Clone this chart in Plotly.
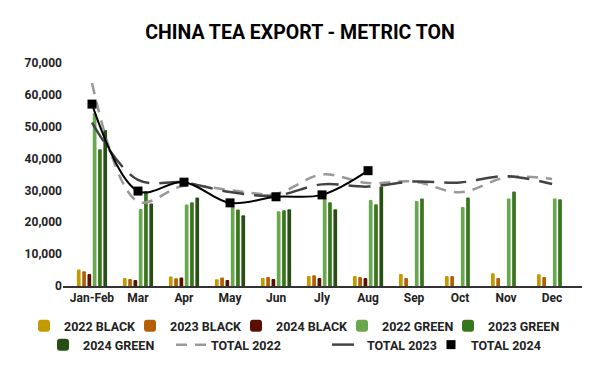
import plotly.graph_objects as go

months = ["Jan-Feb", "Mar", "Apr", "May", "Jun", "Jly", "Aug", "Sep", "Oct", "Nov", "Dec"]
black_2022 = [5200, 2500, 3000, 2100, 2500, 3100, 3100, 3800, 3100, 4000, 3700]
black_2023 = [4600, 2200, 2400, 2700, 2800, 3400, 2800, 2500, 3100, 2500, 2800]
black_2024 = [3800, 1900, 2700, 1900, 2200, 2500, 2500, None, None, None, None]
green_2022 = [54200, 24200, 25600, 25100, 23500, 27600, 27000, 26700, 24800, 27500, 27500]
green_2023 = [42900, 29800, 26300, 24000, 23800, 26300, 25700, 27500, 27800, 29700, 27200]
green_2024 = [49000, 25900, 27800, 22200, 24100, 24100, 31200, None, None, None, None]
total_2022 = [63700, 26500, 31500, 30100, 29000, 35000, 32300, 32800, 29400, 34100, 33600]
total_2023 = [51300, 33300, 32500, 29500, 28400, 31900, 31200, 32800, 32500, 34500, 32000]
total_2024 = [57100, 29800, 32600, 26100, 28000, 28600, 36200, None, None, None, None]

bar_series = [
    ("2022 BLACK", black_2022, "#c49a00"),
    ("2023 BLACK", black_2023, "#b45f06"),
    ("2024 BLACK", black_2024, "#5b0f00"),
    ("2022 GREEN", green_2022, "#6aa84f"),
    ("2023 GREEN", green_2023, "#38761d"),
    ("2024 GREEN", green_2024, "#274e13"),
]

# legend entry placement (text start x, row centre y) in pixels
leg_pos = [(64, 326), (170, 326), (276, 326), (382, 326), (488, 326),
           (83, 345), (211, 345), (367, 345), (471, 345)]

fig = go.Figure()
for i, (name, vals, col) in enumerate(bar_series):
    fig.add_trace(go.Bar(
        x=months, y=vals, name=name, marker_color=col, marker_line_width=0,
        marker_cornerradius=1, showlegend=True,
        legend="legend" if i == 0 else f"legend{i + 1}",
    ))

fig.add_trace(go.Scatter(
    x=months, y=total_2022, name="TOTAL 2022", mode="lines",
    line=dict(color="#999999", width=2.5, dash="11px,8px", shape="spline", smoothing=1.0),
    legend="legend7",
))
fig.add_trace(go.Scatter(
    x=months, y=total_2023, name="TOTAL 2023", mode="lines",
    line=dict(color="#434343", width=2.5, dash="22px,10px", shape="spline", smoothing=1.0),
    legend="legend8",
))
fig.add_trace(go.Scatter(
    x=months, y=total_2024, name="TOTAL 2024", mode="lines",
    line=dict(color="#000000", width=2, shape="spline", smoothing=1.0),
    showlegend=False, legend="legend9",
))
fig.add_trace(go.Scatter(
    x=months, y=total_2024, name="TOTAL 2024", mode="markers",
    marker=dict(color="#000000", symbol="square", size=9),
    legend="legend9",
))

font = "Roboto"
legfont = dict(family=font, size=12.5, color="#222222", weight="bold")
W, H = 600, 371
layout = dict(
    width=W, height=H, showlegend=True,
    margin=dict(l=63, r=18, t=63, b=85, autoexpand=False),
    paper_bgcolor="white", plot_bgcolor="white",
    barmode="group", bargap=0.31, bargroupgap=0.3,
    title=dict(text="<b>CHINA TEA EXPORT - METRIC TON</b>", x=0.5, xanchor="center",
               xref="container", yref="container",
               y=1 - 32 / H, yanchor="middle",
               font=dict(family=font, size=19.5, color="#000000")),
    font=dict(family=font, size=12, color="#222222"),
    xaxis=dict(
        type="category", range=[-0.63, 10.65], showgrid=False, zeroline=False,
        showline=True, linecolor="#333333", linewidth=1.5, ticks="",
        tickfont=dict(family=font, size=12, color="#222222", weight="bold"),
    ),
    yaxis=dict(
        range=[0, 70000], dtick=10000, tickformat=",d", showgrid=False,
        zeroline=False, showline=False, ticks="", automargin=False,
        tickfont=dict(family=font, size=12, color="#222222", weight="bold"),
    ),
)
for i, (tx, ty) in enumerate(leg_pos):
    key = "legend" if i == 0 else f"legend{i + 1}"
    layout[key] = dict(orientation="h", x=(tx - 40) / W, xanchor="left", xref="container",
                       yref="container", y=1 - ty / H, yanchor="middle", font=legfont,
                       itemwidth=30, bgcolor="rgba(0,0,0,0)", borderwidth=0)
fig.update_layout(**layout)

fig.write_html(
    "out.html",
    config={"displayModeBar": False},
    post_script="document.body.style.margin='0';document.body.style.padding='0';",
)
